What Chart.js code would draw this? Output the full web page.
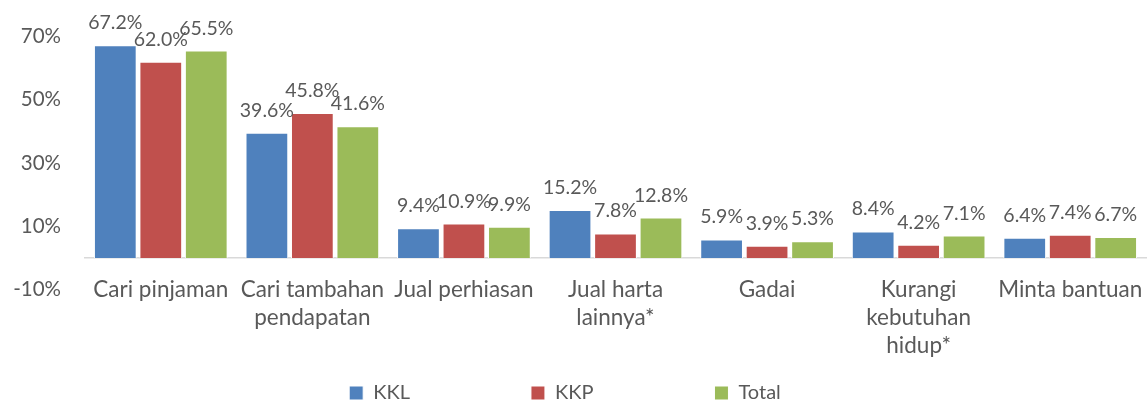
<!DOCTYPE html>
<html>
<head>
<meta charset="utf-8">
<script src="https://cdn.jsdelivr.net/npm/chart.js@4.4.1/dist/chart.umd.min.js"></script>
<style>
  html, body { margin: 0; padding: 0; background: #fff; }
  #wrap { width: 1148px; height: 405px; }
</style>
</head>
<body>
<div id="wrap"><canvas id="chart"></canvas></div>
<script>
// data
const categories = [
  'Cari pinjaman',
  ['Cari tambahan', 'pendapatan'],
  'Jual perhiasan',
  ['Jual harta', 'lainnya*'],
  'Gadai',
  ['Kurangi', 'kebutuhan', 'hidup*'],
  'Minta bantuan'
]
const kkl = [67.2, 39.6, 9.4, 15.2, 5.9, 8.4, 6.4]
const kkp = [62.0, 45.8, 10.9, 7.8, 3.9, 4.2, 7.4]
const total = [65.5, 41.6, 9.9, 12.8, 5.3, 7.1, 6.7]
const yTicks = [-10, 10, 30, 50, 70]

const FONT = 'Lato, "Open Sans", sans-serif'
const TEXT = '#595959'

// value labels above each bar
const valueLabels = {
  id: 'valueLabels',
  afterDatasetsDraw(chart) {
    const ctx = chart.ctx
    ctx.save()
    ctx.font = `19.5px ${FONT}`
    ctx.fillStyle = TEXT
    ctx.textAlign = 'center'
    ctx.textBaseline = 'alphabetic'
    chart.data.datasets.forEach((ds, i) => {
      chart.getDatasetMeta(i).data.forEach((bar, j) => {
        ctx.fillText(ds.data[j].toFixed(1) + '%', bar.x, bar.y - 16)
      })
    })
    ctx.restore()
  }
}

const makeSet = (label, data, color) => ({
  label: label,
  data: data,
  backgroundColor: color,
  borderColor: '#fff',
  borderWidth: 1,
  categoryPercentage: 0.9,
  barPercentage: 0.94
})

new Chart(document.getElementById('chart'), {
  type: 'bar',
  data: {
    labels: categories,
    datasets: [
      makeSet('KKL', kkl, '#4F81BD'),
      makeSet('KKP', kkp, '#C0504D'),
      makeSet('Total', total, '#9BBB59')
    ]
  },
  options: {
    responsive: true,
    maintainAspectRatio: false,
    animation: false,
    // negative left padding nudges the centred legend left
    layout: { padding: { top: 34, right: 2, bottom: -8, left: -16 } },
    plugins: {
      tooltip: { enabled: false },
      legend: {
        position: 'bottom',
        labels: {
          boxWidth: 14,
          boxHeight: 14,
          padding: 121,
          color: TEXT,
          font: { size: 20, family: FONT }
        },
        // empty title; its negative padding offsets the tall label padding
        title: { display: true, text: '', font: { size: 1 }, padding: { top: -29, bottom: 0 } }
      }
    },
    scales: {
      x: {
        position: { y: 0 },
        grid: { display: false, drawTicks: false },
        border: { display: true, color: '#D9D9D9', width: 1.5 },
        ticks: {
          color: TEXT,
          font: { size: 22.5, family: FONT, lineHeight: 1.245 },
          padding: 18,
          maxRotation: 0,
          autoSkip: false
        },
        // labels may reach the edge, as in the original
        afterFit: scale => {
          scale.paddingLeft = 0
          scale.paddingRight = 0
        }
      },
      y: {
        min: -10,
        max: 70,
        border: { display: false },
        grid: { display: false, drawTicks: false },
        ticks: {
          color: TEXT,
          font: { size: 20.5, family: FONT },
          padding: 24,
          callback: v => v + '%'
        },
        afterBuildTicks: scale => { scale.ticks = yTicks.map(v => ({ value: v })) },
        afterFit: scale => { scale.width = 101 }
      }
    }
  },
  plugins: [valueLabels]
})
</script>
</body>
</html>
